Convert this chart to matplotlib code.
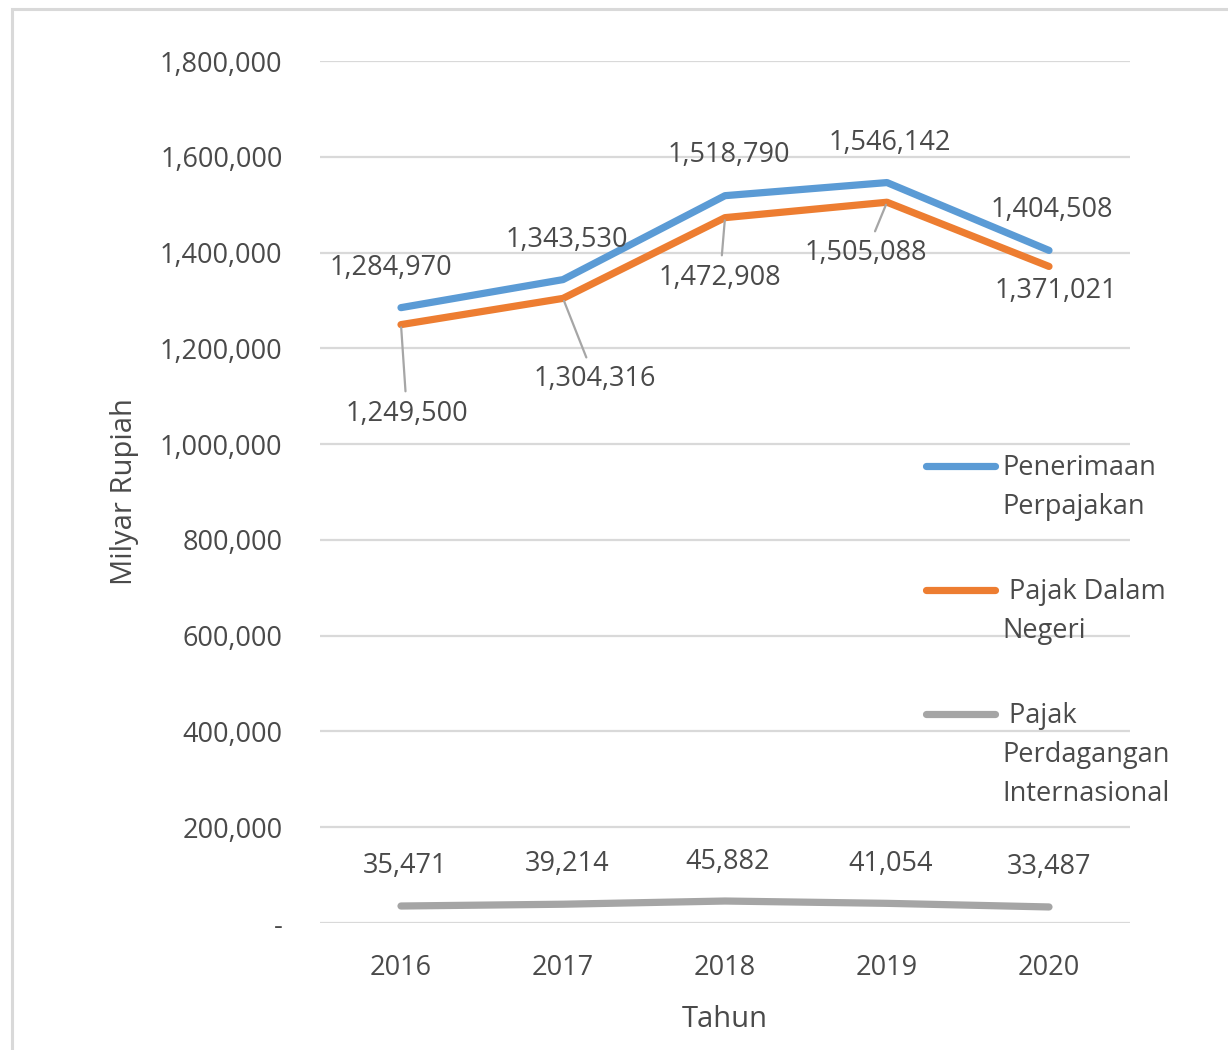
import matplotlib
matplotlib.use('Agg')

import matplotlib.pyplot as plt
from matplotlib.lines import Line2D
from matplotlib.patches import Rectangle
from matplotlib.ticker import FuncFormatter

# data (Milyar Rupiah)
years = ['2016', '2017', '2018', '2019', '2020']
penerimaan = [1284970, 1343530, 1518790, 1546142, 1404508]
dalam_negeri = [1249500, 1304316, 1472908, 1505088, 1371021]
perdagangan = [35471, 39214, 45882, 41054, 33487]
series_names = ['Penerimaan\nPerpajakan', 'Pajak Dalam\nNegeri', 'Pajak\nPerdagangan\nInternasional']
y_ticks = [0, 200000, 400000, 600000, 800000, 1000000, 1200000, 1400000, 1600000, 1800000]

blue = '#5B9BD5'
orange = '#ED7D31'
gray = '#A5A5A5'
txt = '#4A4A4A'

plt.rcParams['font.family'] = ['Open Sans', 'DejaVu Sans']

fig = plt.figure(figsize=(12.28, 10.5), dpi=100)
ax = fig.add_axes([320 / 1228, 127 / 1050, 810 / 1228, 862 / 1050])

x = list(range(len(years)))
lw = 5.2
ax.plot(x, penerimaan, color=blue, lw=lw, solid_capstyle='round', zorder=3)
ax.plot(x, dalam_negeri, color=orange, lw=lw, solid_capstyle='round', zorder=3)
ax.plot(x, perdagangan, color=gray, lw=lw, solid_capstyle='round', zorder=3)

ax.set_xlim(-0.5, 4.5)
ax.set_ylim(0, 1800000)
ax.set_yticks(y_ticks)
ax.yaxis.set_major_formatter(FuncFormatter(lambda v, p: '-' if v == 0 else f'{int(v):,}'))
ax.set_xticks(x)
ax.set_xticklabels(years)
ax.grid(axis='y', color='#D9D9D9', lw=1.6)
ax.set_axisbelow(True)
for s in ax.spines.values():
    s.set_visible(False)
ax.tick_params(axis='both', length=0, labelsize=19.5, colors=txt)
ax.tick_params(axis='y', pad=27)
ax.tick_params(axis='x', pad=22)
ax.set_xlabel('Tahun', fontsize=21, color=txt, labelpad=17)
ax.set_ylabel('Milyar Rupiah', fontsize=21, color=txt, labelpad=15)

px = 0.72  # pixel -> point


def label(i, val, dx, dy, leader=False):
    kw = {}
    if leader:
        kw['arrowprops'] = dict(arrowstyle='-', color='#A6A6A6', lw=1.6, shrinkA=4, shrinkB=2)
    ax.annotate(f'{val:,}', (x[i], val), xytext=(dx * px, dy * px), textcoords='offset points',
                ha='center', va='center', fontsize=19.5, color=txt, **kw)


blue_off = [(-10, 40), (4, 40), (4, 41), (3, 40), (3, 40)]
orange_off = [(6, -89), (32, -81), (-5, -60), (-21, -51), (7, -25)]
orange_lead = [True, True, True, True, False]
gray_off = [(4, 40), (4, 40), (3, 39), (4, 39), (0, 40)]
for i in x:
    label(i, penerimaan[i], *blue_off[i])
    label(i, dalam_negeri[i], *orange_off[i], leader=orange_lead[i])
    label(i, perdagangan[i], *gray_off[i])

# legend on the right, drawn over the plot area
leg_y = [466, 590, 714]
leg_c = [blue, orange, gray]
for yy, c, name in zip(leg_y, leg_c, series_names):
    fy = 1 - yy / 1050
    fig.add_artist(Line2D([926 / 1228, 995 / 1228], [fy, fy], color=c, lw=lw, solid_capstyle='round'))
    first, rest = name.split('\n', 1)
    pad = '' if c == blue else ' '
    fig.text(1002 / 1228, 1 - (yy + 2) / 1050, pad + first, fontsize=19.5, color=txt, va='center', ha='left')
    for k, line in enumerate(rest.split('\n')):
        fig.text(1002 / 1228, 1 - (yy + 2 + 39 * (k + 1)) / 1050, line, fontsize=19.5, color=txt,
                 va='center', ha='left')

# chart border
fig.add_artist(Rectangle((12 / 1228, -0.05), 1.2, 1.05 - 9 / 1050, transform=fig.transFigure,
                         fill=False, edgecolor='#D9D9D9', lw=2.2))

fig.savefig('out.png', dpi=100)
